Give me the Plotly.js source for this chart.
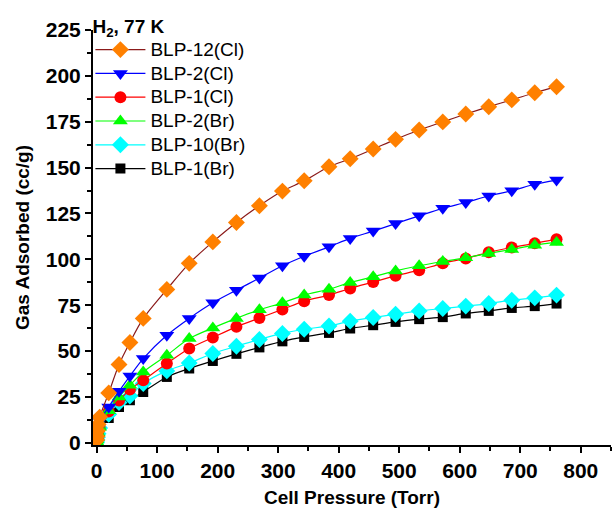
<!DOCTYPE html>
<html>
<head>
<meta charset="utf-8">
<script src="https://cdn.plot.ly/plotly-3.0.1.min.js"></script>
<style>html,body{margin:0;padding:0;background:#fff;}#chart{width:612px;height:516px;}</style>
</head>
<body>
<div id="chart"></div>
<script>
// Cell pressure (Torr), shared by all isotherms
const pressure = [0.2, 0.6, 1.3, 2.5, 5, 20, 37, 55, 77, 116, 153, 192, 231, 269, 307, 343, 384, 419, 457, 494, 533, 572, 610, 648, 686, 724, 760];

const seriesNames = ["BLP-12(Cl)", "BLP-2(Cl)", "BLP-1(Cl)", "BLP-2(Br)", "BLP-10(Br)", "BLP-1(Br)"];

// Gas adsorbed (cc/g)
const blp12Cl = [1.5, 3.5, 6.5, 10, 14, 27.2, 42.7, 54.7, 67.8, 83.6, 97.8, 109.5, 120.1, 129.2, 137.2, 142.8, 150.5, 154.8, 160.1, 165.4, 170.5, 174.9, 179.2, 183.2, 186.9, 190.8, 194.1];
const blp2Cl  = [1, 2.5, 5, 8, 12, 19.5, 28.1, 36.4, 45.9, 58.6, 67.8, 76.3, 83.2, 89.8, 96.5, 101.7, 106.8, 111.4, 115.4, 119.5, 123.7, 127.8, 131, 134.5, 137.4, 140.9, 143.2];
const blp1Cl  = [0.5, 1.5, 3, 5, 8, 17, 23, 29, 34.1, 43.2, 51.4, 57.4, 63.2, 68, 72.7, 77.2, 80.5, 84.1, 87.7, 91, 94.1, 97.8, 100.5, 103.8, 106.5, 108.7, 111];
const blp2Br  = [0.5, 1.5, 3, 5.5, 8.5, 17.5, 25, 31.4, 38.6, 47.7, 56.8, 62.6, 67.8, 72.5, 76.3, 80.5, 83.7, 87.4, 90.5, 93.7, 96.5, 98.8, 100.8, 103.2, 105.4, 107.7, 109.2];
const blp10Br = [0.5, 1.5, 3, 5, 8, 15.5, 21.9, 25.5, 32.3, 39.2, 43.5, 48.7, 52.6, 56.3, 59.6, 61.9, 63.7, 66.3, 68.3, 70.1, 71.9, 73.2, 74.5, 75.9, 77.7, 79, 80.5];
const blp1Br  = [0.5, 1.5, 2.5, 4.5, 7, 13.5, 19.5, 23.2, 27.7, 35.9, 40.5, 44.6, 48.5, 52, 55.3, 57.7, 59.9, 62.3, 64.1, 65.9, 67.4, 68.5, 70.5, 71.9, 73.5, 74.5, 75.9];

const xTickVals = [0, 100, 200, 300, 400, 500, 600, 700, 800];
const yTickVals = [0, 25, 50, 75, 100, 125, 150, 175, 200, 225];

const FONT = "Liberation Sans, Arial, Helvetica, sans-serif";

function mk(name, y, lineColor, markerColor, symbol, size, rank) {
  return {
    x: pressure, y: y, name: "<span style='font-size:19px'>" + name + "</span>",
    type: "scatter", mode: "lines+markers",
    line: {color: lineColor, width: 1.2, shape: "spline", smoothing: 0.8},
    marker: {color: markerColor, symbol: symbol, size: size, line: {width: 0}},
    legendrank: rank
  };
}

// drawing order: bottom first so orange ends on top
const traces = [
  mk(seriesNames[5], blp1Br, "#000000", "#000000", "square", 10, 6),
  mk(seriesNames[4], blp10Br, "#00FFFF", "#00FFFF", "diamond", 13, 5),
  mk(seriesNames[2], blp1Cl, "#FF0000", "#FF0000", "circle", 12, 3),
  mk(seriesNames[3], blp2Br, "#00FF00", "#00FF00", "triangle-up", 13, 4),
  mk(seriesNames[1], blp2Cl, "#0000FF", "#0000FF", "triangle-down", 13, 2),
  mk(seriesNames[0], blp12Cl, "#8B1A1A", "#FF8000", "diamond", 13, 1)
];

const layout = {
  width: 612, height: 516,
  margin: {l: 93, r: 1, t: 30, b: 71.3},
  paper_bgcolor: "#ffffff", plot_bgcolor: "#ffffff",
  font: {family: FONT, color: "#000000"},
  showlegend: true,
  legend: {
    x: -0.005, y: 1.053, xanchor: "left", yanchor: "top",
    bgcolor: "rgba(0,0,0,0)", borderwidth: 0,
    font: {family: FONT, size: 16, color: "#000"},
    itemwidth: 50,
    title: {text: "<b>H<sub>2</sub>, 77 K</b>", font: {family: FONT, size: 19, color: "#000"}},
    tracegroupgap: 0
  },
  xaxis: {
    range: [-6, 850], showgrid: false, zeroline: false,
    showline: true, linecolor: "#000", linewidth: 2,
    ticks: "outside", ticklen: 6, tickwidth: 2, tickcolor: "#000",
    tickvals: xTickVals, ticktext: xTickVals.map(String),
    tickfont: {family: FONT, size: 21, color: "#000", weight: "bold"},
    minor: {ticks: "outside", ticklen: 4, tickwidth: 2, tickcolor: "#000", dtick: 50, tick0: 0, showgrid: false},
    title: {text: "<b>Cell Pressure (Torr)</b>", font: {family: FONT, size: 19, color: "#000"}, standoff: 9}
  },
  yaxis: {
    range: [-1.2, 225], showgrid: false, zeroline: false,
    showline: true, linecolor: "#000", linewidth: 2,
    ticks: "outside", ticklen: 6, tickwidth: 2, tickcolor: "#000",
    tickvals: yTickVals, ticktext: yTickVals.map(String),
    tickfont: {family: FONT, size: 21, color: "#000", weight: "bold"},
    minor: {ticks: "outside", ticklen: 4, tickwidth: 2, tickcolor: "#000", dtick: 12.5, tick0: 0, showgrid: false},
    title: {text: "<b>Gas Adsorbed (cc/g)</b>", font: {family: FONT, size: 19, color: "#000"}, standoff: 11}
  }
};

Plotly.newPlot("chart", traces, layout, {displayModeBar: false, staticPlot: true});
</script>
</body>
</html>
